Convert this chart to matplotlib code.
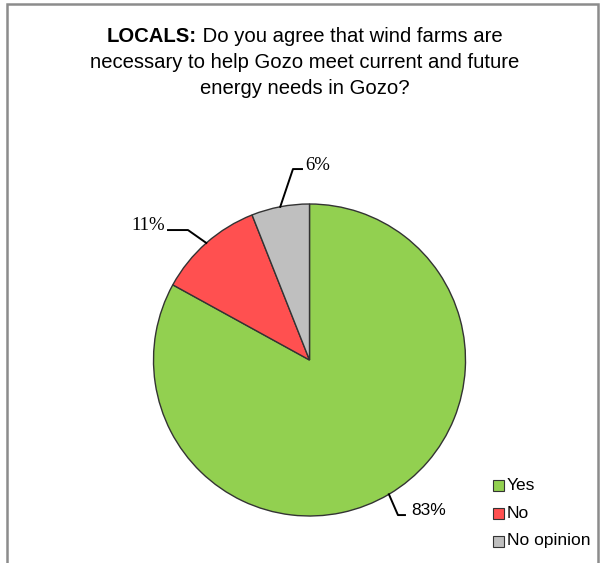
import matplotlib
matplotlib.use("Agg")
import matplotlib.pyplot as plt
import numpy as np
from matplotlib.patches import Rectangle
from matplotlib.lines import Line2D

categories = ["Yes", "No", "No opinion"]
values = [83, 11, 6]
labels = ["83%", "11%", "6%"]
colors = ["#92D050", "#FF5050", "#BFBFBF"]

W, H = 603, 563
fig = plt.figure(figsize=(W / 100, H / 100), dpi=100)
fig.patch.set_facecolor("white")

# border
fig.add_artist(Rectangle((7 / W, -0.05), (598 - 7) / W, (H - 4) / H + 0.05,
                         transform=fig.transFigure, fill=False,
                         edgecolor="#8C8C8C", linewidth=1.8))

# pie axes: center (309.5, 360) px, radius 156 px
cx, cy, r = 309.5, 360, 156
ax = fig.add_axes([(cx - r) / W, (H - cy - r) / H, 2 * r / W, 2 * r / H])

wedges, _ = ax.pie(values, colors=colors, startangle=90, counterclock=False,
                   radius=1, wedgeprops=dict(edgecolor="#333333", linewidth=1.0))
ax.set_xlim(-1, 1)
ax.set_ylim(-1, 1)
ax.set_aspect("equal")
ax.axis("off")

# label placement: (bend point, end x, text x, text y, ha, font family)
label_style = {
    "83%": dict(bend=(0.567, -0.994), endx=0.612, tx=0.655, ty=-0.965, ha="left",
                family="Liberation Sans", fs=12.5),
    "11%": dict(bend=(-0.779, 0.833), endx=-0.907, tx=-0.925, ty=0.865, ha="right",
                family="Liberation Serif", fs=13.5),
    "6%": dict(bend=(-0.106, 1.224), endx=-0.048, tx=-0.03, ty=1.25, ha="left",
               family="Liberation Serif", fs=13.5),
}
for w, lab in zip(wedges, labels):
    ang = np.deg2rad((w.theta1 + w.theta2) / 2)
    ex, ey = np.cos(ang), np.sin(ang)
    s = label_style[lab]
    bx, by = s["bend"]
    ax.add_line(Line2D([ex, bx, s["endx"]], [ey, by, by], color="black",
                       linewidth=1.4, clip_on=False))
    ax.text(s["tx"], s["ty"], lab, ha=s["ha"], va="center", fontsize=s["fs"],
            family=s["family"], clip_on=False)

# title with bold first part
title_lines = [("LOCALS:", " Do you agree that wind farms are"),
               ("", "necessary to help Gozo meet current and future"),
               ("", "energy needs in Gozo?")]
title_y = [37, 63, 88]
title_cx = 305
fs = 14.6
fam = "Liberation Sans"
fig.canvas.draw()
renderer = fig.canvas.get_renderer()
for (b, n), yy in zip(title_lines, title_y):
    yf = 1 - yy / H
    if b:
        tb = fig.text(0, yf, b, fontsize=fs, fontweight="bold", family=fam, va="center", ha="left")
        tn = fig.text(0, yf, n, fontsize=fs, family=fam, va="center", ha="left")
        wb = tb.get_window_extent(renderer).width
        wn = tn.get_window_extent(renderer).width
        x0 = title_cx - (wb + wn) / 2
        tb.set_x(x0 / W)
        tn.set_x((x0 + wb) / W)
    else:
        fig.text(title_cx / W, yf, n, fontsize=fs, family=fam, va="center", ha="center")

# legend
leg_y = [485, 513, 541]
for cat, col, yy in zip(categories, colors, leg_y):
    fig.add_artist(Rectangle((493 / W, 1 - (yy + 5.5) / H), 11 / W, 11 / H,
                             transform=fig.transFigure, facecolor=col,
                             edgecolor="#333333", linewidth=0.8))
    fig.text(507 / W, 1 - yy / H, cat, fontsize=12.5, family="Liberation Sans",
             va="center", ha="left")

fig.savefig("out.png", dpi=100)
